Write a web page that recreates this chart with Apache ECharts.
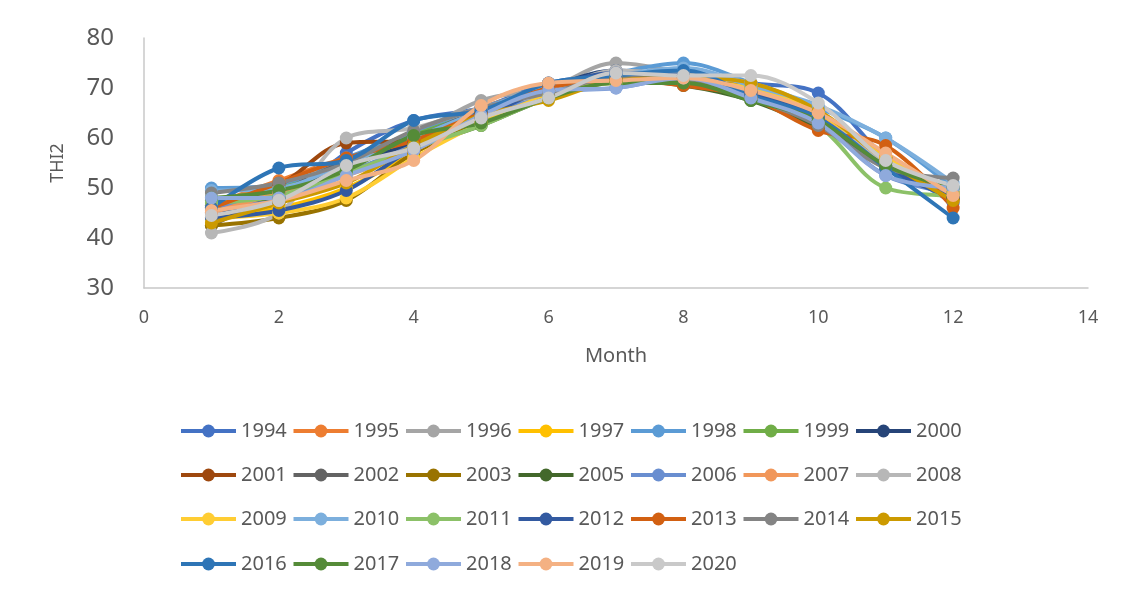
<!DOCTYPE html>
<html>
<head>
<meta charset="utf-8">
<title>THI2 by month</title>
<script src="https://cdn.jsdelivr.net/npm/echarts@6/dist/echarts.min.js"></script>
<style>
  html, body { margin: 0; padding: 0; background: #ffffff; }
  #chart { width: 1123px; height: 596px; }
</style>
</head>
<body>
<div id="chart"></div>
<script>
// Months on the x axis
const months = [1, 2, 3, 4, 5, 6, 7, 8, 9, 10, 11, 12];

// Year labels (2004 has no record)
const years = ['1994', '1995', '1996', '1997', '1998', '1999', '2000',
               '2001', '2002', '2003', '2005', '2006', '2007', '2008',
               '2009', '2010', '2011', '2012', '2013', '2014', '2015',
               '2016', '2017', '2018', '2019', '2020'];

// Monthly THI2 per year
const thi1994 = [45, 47, 57, 63.5, 66, 71, 72.5, 73.5, 71, 69, 56, 47];
const thi1995 = [46.5, 51.5, 56, 59, 66, 69.5, 72, 72, 69, 63, 56, 47.5];
const thi1996 = [47, 49, 55, 60.5, 67.5, 70, 75, 73, 70.5, 64, 55, 49];
const thi1997 = [44, 46, 50, 57, 64, 69.5, 72, 71.5, 70, 64.5, 55, 48];
const thi1998 = [50, 50.5, 56, 61, 66, 70, 73, 75, 71, 66, 60, 50];
const thi1999 = [47.5, 50, 54, 60.5, 65, 69, 72, 71.5, 68.5, 63, 55, 49];
const thi2000 = [45, 48, 54.5, 59, 65, 70, 73.5, 72, 69, 64, 54.5, 48];
const thi2001 = [46, 50.5, 59, 59.5, 65, 69.5, 72, 71, 68, 62.5, 56, 48];
const thi2002 = [42.5, 49, 55.5, 60, 65.5, 69, 72.5, 72, 69.5, 63.5, 54, 49];
const thi2003 = [42.5, 44, 47.5, 57, 63, 68.5, 72, 71.5, 70, 65, 56, 48];
const thi2005 = [46, 48, 53, 58, 62.5, 68, 71.5, 70.5, 67.5, 62, 55, 50];
const thi2006 = [46.5, 47.5, 53, 58.5, 64, 69, 70, 72, 68.5, 63, 52.5, 49];
const thi2007 = [45, 49, 52.5, 57.5, 64.5, 70, 71.5, 71.5, 69, 64, 56.5, 48.5];
const thi2008 = [41, 45, 60, 62, 66, 69, 73.5, 72.5, 71, 65.5, 55, 50];
const thi2009 = [44, 45, 48, 56, 63, 68.5, 71, 71, 70, 65, 56, 49];
const thi2010 = [49.5, 50, 55, 60, 65.5, 70.5, 72.5, 74, 70.5, 66.5, 60, 51];
const thi2011 = [47, 48.5, 53, 58, 62.5, 68, 71, 71, 68, 62.5, 50, 48.5];
const thi2012 = [44, 45.5, 49.5, 58, 64, 70, 73, 72.5, 69, 64, 54, 48];
const thi2013 = [46, 51, 56, 59.5, 65, 70, 71.5, 70.5, 68, 61.5, 58.5, 46];
const thi2014 = [49, 51, 55, 61.5, 66, 69, 72, 71.5, 68, 62.5, 54, 52];
const thi2015 = [43, 47, 51, 58.5, 64.5, 67.5, 71.5, 72, 71, 65.5, 55.5, 47.5];
const thi2016 = [46, 54, 55.5, 63.5, 65.5, 71, 72.5, 73.5, 68.5, 64, 54, 44];
const thi2017 = [48, 49.5, 53.5, 60.5, 63, 68, 71, 71, 67.5, 63.5, 54.5, 50];
const thi2018 = [48, 48, 52.5, 57.5, 64.5, 69.5, 70, 72, 68, 63, 52.5, 50];
const thi2019 = [45.5, 47.5, 51.5, 55.5, 66.5, 71, 71.5, 72, 69.5, 65, 57, 48.5];
const thi2020 = [44.5, 47.5, 54.5, 58, 64, 68, 73, 72.5, 72.5, 67, 55.5, 50.5];

const yearValues = [thi1994, thi1995, thi1996, thi1997, thi1998, thi1999, thi2000,
                    thi2001, thi2002, thi2003, thi2005, thi2006, thi2007, thi2008,
                    thi2009, thi2010, thi2011, thi2012, thi2013, thi2014, thi2015,
                    thi2016, thi2017, thi2018, thi2019, thi2020];

// Axis ticks
const xTicks = [0, 2, 4, 6, 8, 10, 12, 14];
const yTicks = [30, 40, 50, 60, 70, 80];

// Office-style series palette
const palette = ['#4472C4', '#ED7D31', '#A5A5A5', '#FFC000', '#5B9BD5', '#70AD47', '#264478',
                 '#9E480E', '#636363', '#997300', '#43682B', '#698ED0', '#F1975A', '#B7B7B7',
                 '#FFCD33', '#7CAFDD', '#8CC168', '#335AA1', '#D26012', '#848484', '#CC9A00',
                 '#2E75B6', '#558B38', '#8FAADC', '#F4B183', '#C9C9C9'];

const FONT = 'Noto Sans';
const TEXT = '#595959';
const AXIS = '#C8C8C8';

const series = years.map((y, i) => ({
  name: y,
  type: 'line',
  smooth: 0.35,
  symbol: 'circle',
  symbolSize: 13,
  data: months.map((m, k) => [m, yearValues[i][k]]),
  lineStyle: { width: 4, color: palette[i] },
  itemStyle: { color: palette[i] },
  emphasis: { disabled: true },
  animation: false
}));

// Four legend rows of seven entries
const rowTops = [421, 465, 509, 554];
const legends = rowTops.map((top, r) => ({
  data: years.slice(r * 7, r * 7 + 7),
  left: 179,
  top: top,
  orient: 'horizontal',
  padding: 0,
  itemWidth: 55,
  itemHeight: 16,
  itemGap: 0.5,
  selectedMode: false,
  lineStyle: { width: 4 },
  textStyle: { fontFamily: FONT, fontSize: 20, color: TEXT, width: 50, lineHeight: 20 }
}));

const chart = echarts.init(document.getElementById('chart'), null, { renderer: 'canvas' });
chart.setOption({
  backgroundColor: '#ffffff',
  animation: false,
  grid: { left: 144, right: 35, top: 38, bottom: 308, containLabel: false },
  legend: legends,
  xAxis: {
    type: 'value',
    min: xTicks[0],
    max: xTicks[xTicks.length - 1],
    interval: 2,
    name: 'Month',
    nameLocation: 'middle',
    nameGap: 58,
    nameTextStyle: { fontFamily: FONT, fontSize: 20, color: TEXT },
    axisLine: { show: true, lineStyle: { color: AXIS, width: 1.5 } },
    axisTick: { show: false },
    splitLine: { show: false },
    axisLabel: { fontFamily: FONT, fontSize: 18, color: TEXT, margin: 21 }
  },
  yAxis: {
    type: 'value',
    min: yTicks[0],
    max: yTicks[yTicks.length - 1],
    interval: 10,
    name: 'THI2',
    nameLocation: 'middle',
    nameRotate: 90,
    nameGap: 77,
    nameTextStyle: { fontFamily: FONT, fontSize: 18, color: TEXT },
    axisLine: { show: true, lineStyle: { color: AXIS, width: 1.5 } },
    axisTick: { show: false },
    splitLine: { show: false },
    axisLabel: { fontFamily: FONT, fontSize: 24, color: TEXT, margin: 30 }
  },
  series: series
});
</script>
</body>
</html>
